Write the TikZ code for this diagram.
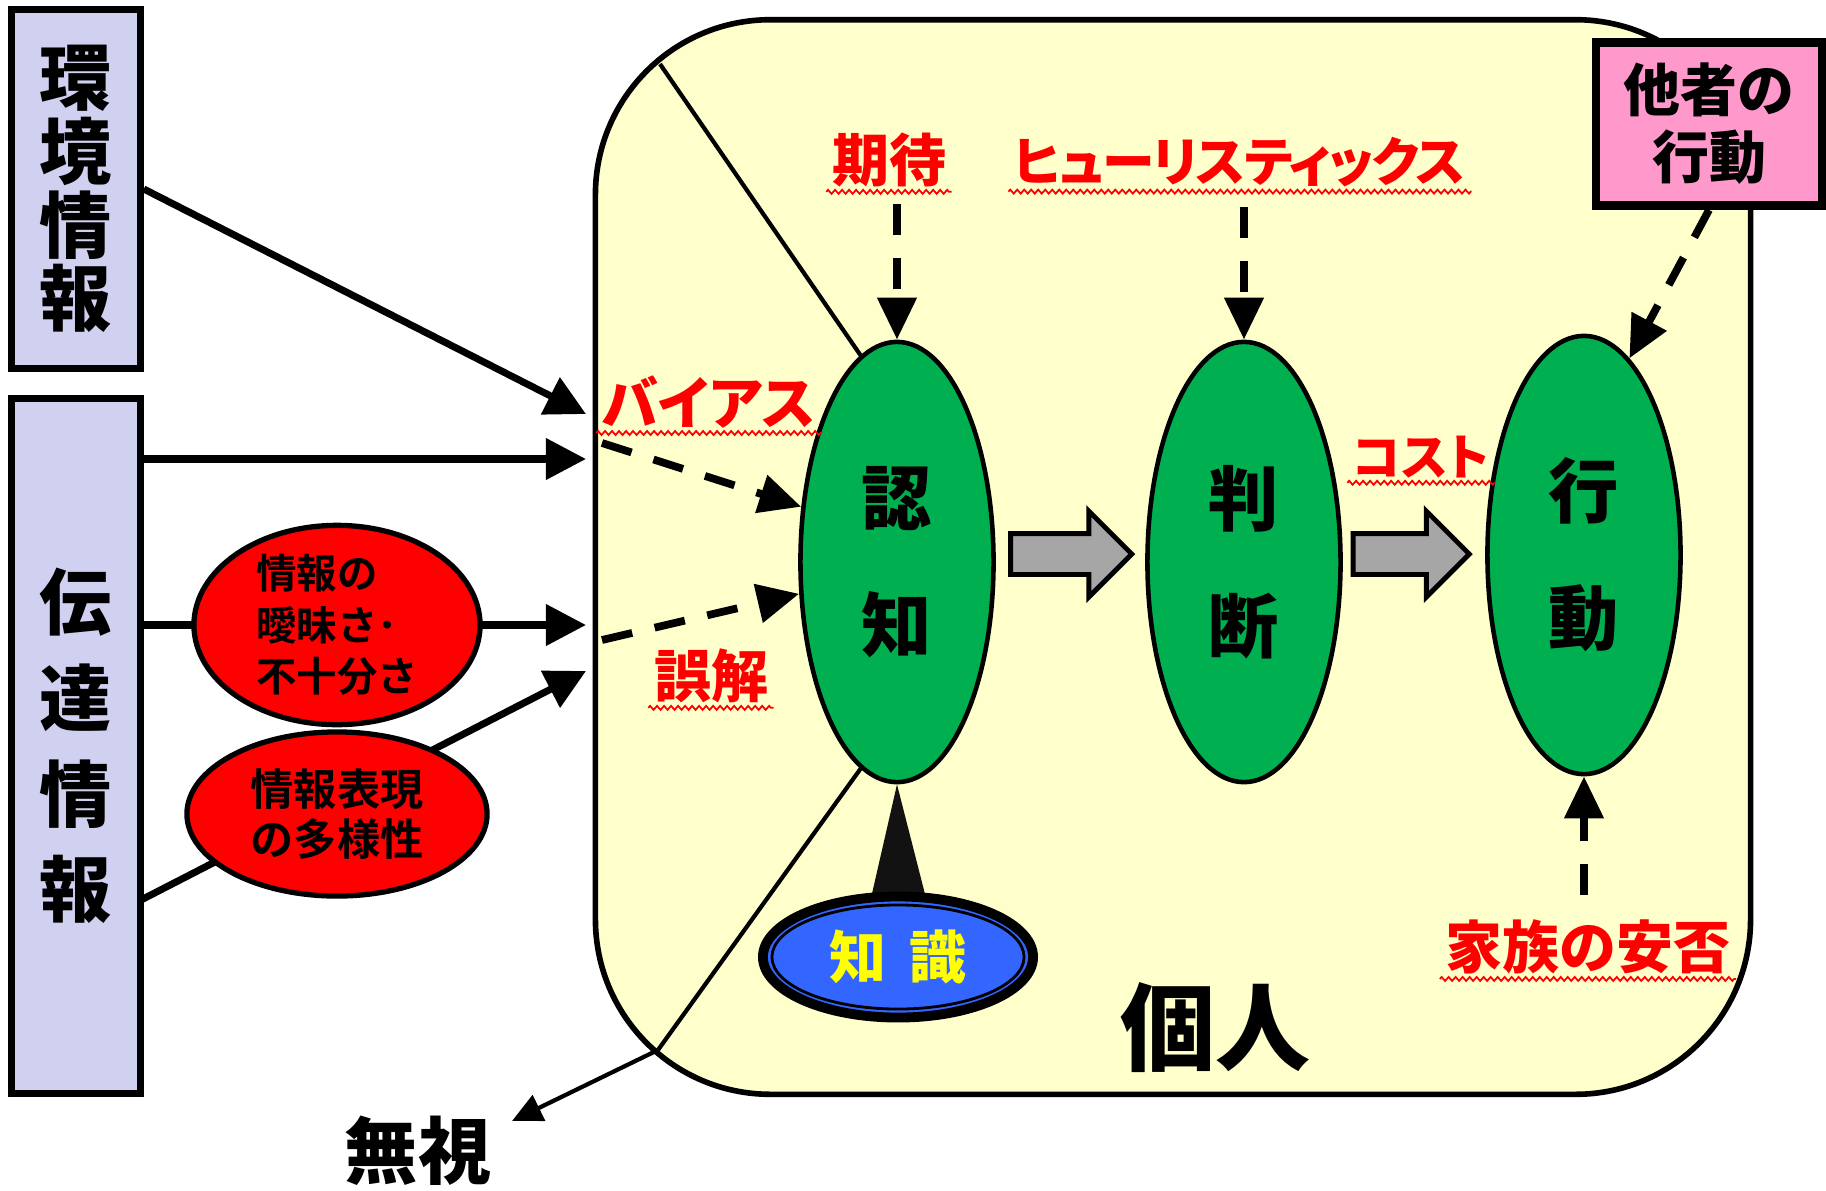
\documentclass[tikz,border=0pt]{standalone}
\usepackage{fontspec}
\usetikzlibrary{positioning,arrows.meta,calc,shapes.geometric,shapes.arrows,decorations.pathmorphing}

% heavy gothic for most labels, proportional kana for katakana words
\IfFontExistsTF{Noto Sans CJK JP Black}
  {\newfontfamily\jpheavy{Noto Sans CJK JP Black}
   \newfontfamily\jpkana{Noto Sans CJK JP Black}[RawFeature=+palt]
   \newfontfamily\jpkanatight{Noto Sans CJK JP Black}[RawFeature=+palt,LetterSpace=-3]}
  {\IfFontExistsTF{Noto Sans CJK JP Bold}
    {\newfontfamily\jpheavy{Noto Sans CJK JP Bold}
     \newfontfamily\jpkana{Noto Sans CJK JP Bold}[RawFeature=+palt]
     \newfontfamily\jpkanatight{Noto Sans CJK JP Bold}[RawFeature=+palt,LetterSpace=-3]}
    {\newfontfamily\jpheavy{Noto Sans CJK JP}[FakeBold=2]
     \newfontfamily\jpkana{Noto Sans CJK JP}[FakeBold=2,RawFeature=+palt]
     \newfontfamily\jpkanatight{Noto Sans CJK JP}[FakeBold=2,RawFeature=+palt,LetterSpace=-3]}}
\IfFontExistsTF{Noto Sans CJK JP Bold}
  {\newfontfamily\jpmid{Noto Sans CJK JP Bold}}
  {\newfontfamily\jpmid{Noto Sans CJK JP}[FakeBold=1.2]}
\newcommand\jpsize[2]{\fontsize{#1}{#2}\selectfont}

\definecolor{infoLav}{RGB}{208,208,240}
\definecolor{selfYellow}{RGB}{255,255,204}
\definecolor{otherPink}{RGB}{255,153,204}
\definecolor{stageGreen}{RGB}{0,176,80}
\definecolor{knowBlue}{RGB}{51,102,255}
\definecolor{knowYellow}{RGB}{255,255,0}
\definecolor{arrowGray}{RGB}{166,166,166}

\begin{document}
\begin{tikzpicture}[x=0.01cm, y=-0.01cm,
  infobox/.style={draw, line width=2pt, fill=infoLav, minimum width=1.285cm,
    inner sep=0pt, align=center, font=\jpheavy\jpsize{20.5pt}{21pt}},
  stage/.style={ellipse, draw, line width=1.3pt, fill=stageGreen, minimum width=1.93cm,
    minimum height=4.4cm, inner sep=0pt, align=center, font=\jpheavy\jpsize{20pt}{36.1pt}},
  issue/.style={ellipse, draw, line width=1.5pt, fill=red, inner sep=0pt},
  cause/.style={text=red, inner sep=0pt, font=\jpheavy\jpsize{16.2pt}{16.2pt}},
  kana/.style={cause, font=\jpkana\jpsize{16.2pt}{16.2pt}},
  spell/.style={red, line width=0.5pt, decorate,
    decoration={zigzag, amplitude=0.02cm, segment length=0.07cm}},
  blockarrow/.style={single arrow, draw, line width=1.4pt, fill=arrowGray,
    minimum height=1.21cm, minimum width=0.81cm, inner xsep=0pt, inner ysep=0.18cm,
    single arrow head extend=0.225cm, single arrow tip angle=90},
  feed/.style={line width=2pt, -{Triangle[length=0.4cm, width=0.4cm]}},
  hint/.style={line width=2.2pt, dash pattern=on 0.31cm off 0.23cm,
    -{Triangle[length=0.42cm, width=0.38cm]}},
  seam/.style={line width=1.2pt}]
  \useasboundingbox (0,0) rectangle (1826,1190);

  % the individual
  \node[draw, line width=1.6pt, fill=selfYellow, rounded corners=1.75cm,
    minimum width=11.545cm, minimum height=10.74cm] (indiv) at (1173,557) {};

  % information sources
  \node[infobox, minimum height=3.585cm] (env) at (76,189) {環\\境\\情\\報};
  \node[infobox, minimum height=6.955cm, font=\jpheavy\jpsize{20.5pt}{27.2pt}] (trans) at (76,746) {伝\\達\\情\\報};
  \node[draw, line width=2.5pt, fill=otherPink, minimum width=2.26cm, minimum height=1.63cm,
    inner sep=0pt, align=center, font=\jpheavy\jpsize{16.2pt}{19pt}] (other) at (1709,124) {他者の\\行動};

  % stages
  \node[stage] (cog) at (897,562) {認\\知};
  \node[stage] (judge) at (1244,562) {判\\断};
  \node[stage, minimum height=4.38cm] (act) at (1584,555) {行\\動};

  % knowledge under cognition
  \coordinate (stemL) at (871,898);
  \coordinate (stemR) at (926,898);
  \fill[black!93] (cog.south) -- (stemL) -- (stemR) -- cycle;
  \node[ellipse, draw, line width=2.8pt, fill=knowBlue, minimum width=2.7cm, minimum height=1.21cm,
    inner sep=0pt, text=knowYellow, font=\jpheavy\jpsize{16.2pt}{16.2pt}] (know) at (898,957) {知\hspace{0.23cm}識};
  \draw[line width=0.8pt] (know.center) ellipse [x radius=1.26cm, y radius=0.52cm];

  % block arrows between stages
  \node[blockarrow] (cogToJudge) at (1061,554) {};
  \node[blockarrow, minimum height=1.16cm] (judgeToAct) at (1401,554) {};

  % influences
  \node[cause] (expect) at (889,160) {期待};
  \node[kana, font=\jpkanatight\jpsize{15pt}{15pt}] (heur) at (1240,162) {ヒューリスティックス};
  \node[kana] (bias) at (709,402) {バイアス};
  \node[cause] (misread) at (711,676) {誤解};
  \node[kana, font=\jpkana\jpsize{14pt}{14pt}] (cost) at (1421,457) {コスト};
  \node[cause] (family) at (1588,947) {家族の安否};
  \foreach \lbl in {expect,heur,bias,misread,cost,family}
    \draw[spell] ([shift={(-0.05cm,-0.04cm)}]\lbl.south west) -- ([shift={(0.05cm,-0.04cm)}]\lbl.south east);

  \coordinate (biasFrom) at (602,443);
  \coordinate (misreadFrom) at (602,640);
  \draw[hint, shorten <=0.16cm] (expect.south -| cog.north) -- (cog.north);
  \draw[hint, shorten <=0.19cm] (heur.south -| judge.north) -- (judge.north);
  \draw[hint] (biasFrom) -- (cog.150);
  \draw[hint] (misreadFrom) -- (cog.198);
  \draw[hint] (other.south) -- (act.77);
  \draw[hint, shorten <=0.24cm] (family.north -| act.south) -- (act.south);

  % incoming information
  \coordinate (tipA) at (586,414);
  \coordinate (tipB) at (586,459);
  \coordinate (tipC) at (586,625);
  \coordinate (tipD) at (586,671);
  \coordinate (fromD) at (141,900);
  \draw[feed] (env.east) -- (tipA);
  \draw[feed] (trans.east |- tipB) -- (tipB);
  \draw[feed] (trans.east |- tipC) -- (tipC);
  \draw[feed] (fromD) -- (tipD);

  \node[issue, minimum width=2.86cm, minimum height=1.8cm, align=left,
    font=\jpmid\jpsize{11.5pt}{14.6pt}] (vague) at (337,625) {情報の\\曖昧さ･\\不十分さ};
  \node[issue, minimum width=3.0cm, minimum height=1.64cm, align=center,
    font=\jpmid\jpsize{12.3pt}{14.2pt}] (variety) at (337,814) {情報表現\\の多様性};

  % filter lines and ignored information
  \coordinate (cutTop) at (660,64);
  \coordinate (cutBot) at (658,1050);
  \coordinate (ignoreTip) at (512,1121);
  \draw[seam] (cutTop) -- (cog.100);
  \draw[seam] (cog.260) -- (cutBot);
  \draw[seam, -{Triangle[length=0.3cm, width=0.28cm]}] (cutBot) -- (ignoreTip);
  \node[inner sep=0pt, font=\jpheavy\jpsize{20.8pt}{20.8pt}] (ignore) at (418,1151) {無視};

  \node[inner sep=0pt, font=\jpheavy\jpsize{27pt}{27pt}] (self) at (1215,1028) {個人};
\end{tikzpicture}
\end{document}
